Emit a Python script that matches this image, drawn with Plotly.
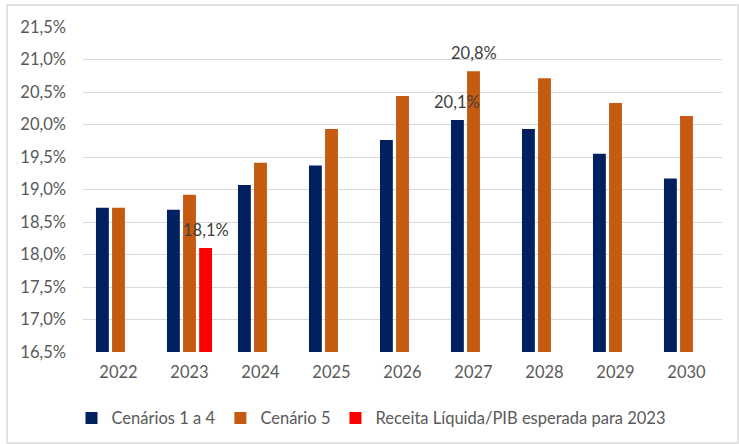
import plotly.graph_objects as go

anos = ["2022", "2023", "2024", "2025", "2026", "2027", "2028", "2029", "2030"]
cenarios_1_4 = [18.72, 18.69, 19.07, 19.37, 19.76, 20.07, 19.93, 19.55, 19.17]
cenario_5 = [18.72, 18.92, 19.41, 19.93, 20.44, 20.82, 20.71, 20.33, 20.13]
receita_2023 = [None, 18.10, None, None, None, None, None, None, None]
y_ticks = [16.5, 17.0, 17.5, 18.0, 18.5, 19.0, 19.5, 20.0, 20.5, 21.0, 21.5]

# which points show a data label
rotulos_1_4 = ["2027"]
rotulos_5 = ["2027"]
rotulos_rec = ["2023"]


def fmt(v):
    return f"{v:.1f}".replace(".", ",") + "%"


FONT = "Lato"
GRAY = "#595959"
FS = 16.5

series = [
    ("Cenários 1 a 4", cenarios_1_4, "#002060", rotulos_1_4),
    ("Cenário 5", cenario_5, "#C55A11", rotulos_5),
    ("Receita Líquida/PIB esperada para 2023", receita_2023, "#FF0000", rotulos_rec),
]

L, R, T, B = 83, 17, 27, 92
W, H = 739, 444
BARGAP = 0.32
cat_px = (W - L - R) / len(anos)
slot_px = cat_px * (1 - BARGAP) / len(series)

fig = go.Figure()
for i, (name, vals, color, show) in enumerate(series):
    fig.add_trace(go.Bar(x=anos, y=vals, name=name, marker=dict(color=color, line_width=0)))

# data labels drawn on top of all bars (x given as category index)
for i, (name, vals, color, show) in enumerate(series):
    shift = (i - (len(series) - 1) / 2) * slot_px
    for k, (a, v) in enumerate(zip(anos, vals)):
        if v is not None and a in show:
            fig.add_annotation(x=k, y=v, text=fmt(v), showarrow=False,
                               yanchor="bottom", xshift=shift, yshift=6,
                               font=dict(family=FONT, size=FS, color="#404040"))

fig.update_layout(
    width=W, height=H,
    margin=dict(l=L, r=R, t=T, b=B, autoexpand=False),
    paper_bgcolor="white", plot_bgcolor="white",
    barmode="group", bargap=BARGAP, bargroupgap=0.2,
    font=dict(family=FONT, size=FS, color=GRAY),
    xaxis=dict(type="category", categoryorder="array", categoryarray=anos,
               range=[-0.5, len(anos) - 0.5],
               showgrid=False, showline=False, ticks="", tickfont=dict(size=FS, color=GRAY),
               ticklabelstandoff=8),
    yaxis=dict(range=[16.5, 21.5], tickvals=y_ticks, ticktext=[fmt(v) for v in y_ticks],
               showgrid=True, gridcolor="#D9D9D9", gridwidth=1, zeroline=False,
               showline=False, ticks="", tickfont=dict(size=FS, color=GRAY),
               ticklabelstandoff=16),
    legend=dict(orientation="h", x=-0.018, xanchor="left", y=-0.15, yanchor="top",
                font=dict(size=FS, color=GRAY), itemwidth=30, traceorder="normal"),
    showlegend=True,
)

# outer chart border
fig.add_shape(type="rect", xref="paper", yref="paper",
              x0=(7 - L) / (W - L - R), x1=(738 - L) / (W - L - R),
              y0=(H - B - 443) / (H - T - B), y1=(H - B - 5) / (H - T - B),
              line=dict(color="#D9D9D9", width=1.5), fillcolor="rgba(0,0,0,0)", layer="below")

fig.write_html("out.html", config={"displayModeBar": False})

with open("out.html", encoding="utf-8") as f:
    html = f.read()
html = html.replace("<head>", "<head><style>html,body{margin:0;padding:0;overflow:hidden;}</style>", 1)
with open("out.html", "w", encoding="utf-8") as f:
    f.write(html)
